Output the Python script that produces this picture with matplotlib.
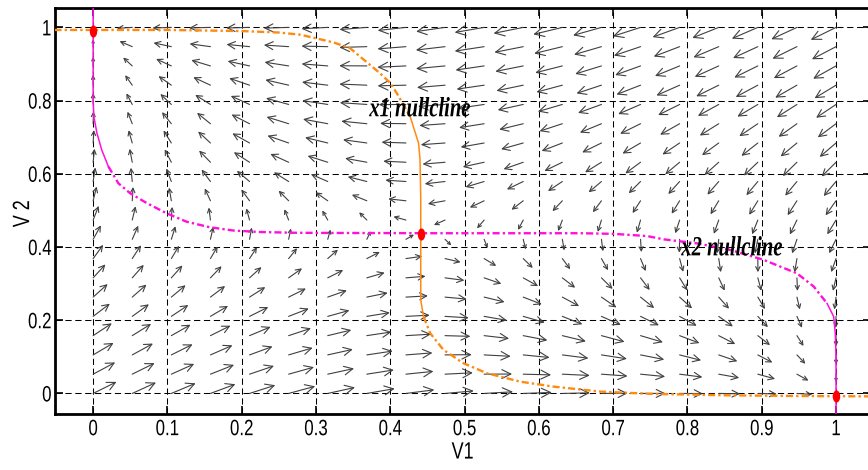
import numpy as np
import matplotlib
matplotlib.use("Agg")
import matplotlib.pyplot as plt
from matplotlib.markers import MarkerStyle
from matplotlib.transforms import Affine2D
from matplotlib.patheffects import AbstractPathEffect

# ---- values ----
# x1 nullcline (orange), traced from upper left to lower right
x1_v1 = [-0.052, 0.10, 0.20, 0.25, 0.279, 0.3235, 0.346, 0.3594, 0.386, 0.400, 0.4088,
         0.4268, 0.438, 0.440, 0.441, 0.441, 0.441, 0.4447, 0.4537, 0.4716, 0.4985,
         0.530, 0.575, 0.620, 0.683, 0.75, 0.85, 0.95, 1.047]
x1_v2 = [0.993, 0.993, 0.990, 0.986, 0.980, 0.959, 0.943, 0.920, 0.875, 0.848, 0.820,
         0.756, 0.684, 0.639, 0.533, 0.437, 0.2555, 0.210, 0.1645, 0.1189, 0.0825,
         0.0552, 0.0322, 0.0186, 0.005, -0.001, -0.005, -0.007, -0.008]

# x2 nullcline (magenta), traced from top to bottom right
x2_v1 = [0.0, 0.0, 0.001, 0.005, 0.0116, 0.0205, 0.034, 0.0497, 0.0722, 0.099, 0.126,
         0.157, 0.189, 0.225, 0.270, 0.315, 0.45, 0.60, 0.656, 0.7005, 0.7455, 0.768,
         0.8128, 0.8577, 0.9025, 0.9475, 0.970, 0.9879, 0.9968, 0.999, 1.0, 1.0]
x2_v2 = [1.053, 0.80, 0.756, 0.712, 0.665, 0.620, 0.574, 0.547, 0.520, 0.492, 0.469,
         0.454, 0.445, 0.441, 0.439, 0.4385, 0.4377, 0.4377, 0.4377, 0.436, 0.430, 0.421,
         0.410, 0.392, 0.365, 0.328, 0.292, 0.246, 0.210, 0.1645, 0.10, -0.057]

# equilibrium points
eq_v1 = [0.0, 0.4416, 1.0]
eq_v2 = [0.99, 0.436, -0.008]

# grid of field arrows
n_grid = 20

xtick_vals = [0, 0.1, 0.2, 0.3, 0.4, 0.5, 0.6, 0.7, 0.8, 0.9, 1]
xtick_labels = ["0", "0.1", "0.2", "0.3", "0.4", "0.5", "0.6", "0.7", "0.8", "0.9", "1"]
ytick_vals = [0, 0.2, 0.4, 0.6, 0.8, 1]
ytick_labels = ["0", "0.2", "0.4", "0.6", "0.8", "1"]

ORANGE = "#FF8A10"
MAGENTA = "#FF10DD"
sans = ["Liberation Sans", "DejaVu Sans"]


class Squeeze(AbstractPathEffect):
    # narrow the glyphs along the text direction (the source figure uses condensed type)
    def __init__(self, sx, anchor=0.5):
        super().__init__()
        self.sx, self.anchor = sx, anchor

    def draw_path(self, renderer, gc, tpath, affine, rgbFace=None):
        ext = tpath.get_extents()
        x0 = ext.x0 + self.anchor * ext.width
        aff = Affine2D().translate(-x0, 0).scale(self.sx, 1).translate(x0, 0) + affine
        renderer.draw_path(gc, tpath, aff, rgbFace)


def signed_dist(px, py, cx, cy):
    # distance from each grid point to a traced curve, positive below/left of it
    cx, cy = np.asarray(cx), np.asarray(cy)
    ax0, ay0 = cx[:-1], cy[:-1]
    dx, dy = np.diff(cx), np.diff(cy)
    L2 = dx * dx + dy * dy
    rx = px[..., None] - ax0
    ry = py[..., None] - ay0
    t = np.clip((rx * dx + ry * dy) / L2, 0, 1)
    d = np.hypot(rx - t * dx, ry - t * dy)
    i = d.argmin(axis=-1)
    cross = dx[i] * (py - ay0[i]) - dy[i] * (px - ax0[i])
    return -np.sign(cross) * d.min(axis=-1)


fig = plt.figure(figsize=(8.68, 4.70), dpi=100)
ax = fig.add_axes([0.0628, 0.1185, 0.9406, 0.8645])
ax.set_xlim(-0.052, 1.047)
ax.set_ylim(-0.057, 1.053)

# ---- direction field ----
g = np.linspace(0, 1, n_grid)
gx, gy = np.meshgrid(g, g)
U = signed_dist(gx, gy, x2_v1, x2_v2)
V = signed_dist(gx, gy, x1_v1, x1_v2)
mag = np.hypot(U, V)
k = 0.05 * np.where(mag > 0, mag, 1) ** (0.3 - 1)
tails = np.column_stack([gx.ravel(), gy.ravel()])
heads = np.column_stack([(gx + U * k).ravel(), (gy + V * k).ravel()])
lens = np.hypot(*(ax.transData.transform(heads) - ax.transData.transform(tails)).T)
for (tx, ty), (hx, hy), L in zip(tails, heads, lens):
    if L < 1:
        continue
    ax.annotate("", xy=(hx, hy), xytext=(tx, ty),
                arrowprops=dict(arrowstyle="->", color="0.25", lw=0.8,
                                shrinkA=0, shrinkB=0,
                                mutation_scale=0.8 * L * 72 / fig.dpi))


# ---- nullclines: dash-dot on flat parts, thin solid where steep ----
def draw_nullcline(xs, ys, steep, color):
    xs, ys = np.asarray(xs), np.asarray(ys)
    start = 0
    for i in range(1, len(xs) + 1):
        if i == len(xs) or steep[i] != steep[start]:
            sl = slice(start, min(i + 1, len(xs)))
            if steep[start]:
                ax.plot(xs[sl], ys[sl], "-", color=color, lw=1.1, zorder=3)
            else:
                ax.plot(xs[sl], ys[sl], color=color, lw=1.7, zorder=3,
                        linestyle=(0, (3, 1.3, 1, 1.3)))
            start = i


y1 = np.asarray(x1_v2)
draw_nullcline(x1_v1, x1_v2, (y1 > 0.21) & (y1 < 0.76), ORANGE)
y2 = np.asarray(x2_v2)
draw_nullcline(x2_v1, x2_v2, (y2 > 0.64) | (y2 < 0.27), MAGENTA)

dot = MarkerStyle("o", transform=Affine2D().scale(0.56, 1.0))
ax.plot(eq_v1, eq_v2, linestyle="none", marker=dot, markersize=7.7,
        color="red", zorder=4)

for label, lx, ly in [("x1 nullcline", 0.44, 0.775), ("x2 nullcline", 0.86, 0.395)]:
    ax.text(lx, ly, label, ha="center", va="center", fontsize=20,
            fontweight="bold", fontstyle="italic", family="Liberation Serif",
            zorder=5, path_effects=[Squeeze(0.74)])

# ---- axes styling ----
ax.set_xticks(xtick_vals)
ax.set_xticklabels(xtick_labels, family=sans, fontsize=16)
ax.set_yticks(ytick_vals)
ax.set_yticklabels(ytick_labels, family=sans, fontsize=16)
for t in ax.get_xticklabels():
    t.set_path_effects([Squeeze(0.76)])
for t in ax.get_yticklabels():
    t.set_path_effects([Squeeze(0.76, anchor=1.0)])
ax.tick_params(direction="in", length=6, width=1.2, top=True, right=True)
ax.tick_params(axis="x", pad=3.5)
ax.tick_params(axis="y", pad=2)
ax.grid(True, color="k", linestyle=(0, (6, 3.5)), linewidth=0.75)
for s in ax.spines.values():
    s.set_linewidth(2)

ax.set_xlabel("V1", family=sans, fontsize=17, labelpad=1,
              path_effects=[Squeeze(0.76)])
ax.set_ylabel("V 2", family=sans, fontsize=17, path_effects=[Squeeze(0.76)])
ax.yaxis.set_label_coords(-0.025, 0.494)

fig.savefig("out.png", dpi=100)
